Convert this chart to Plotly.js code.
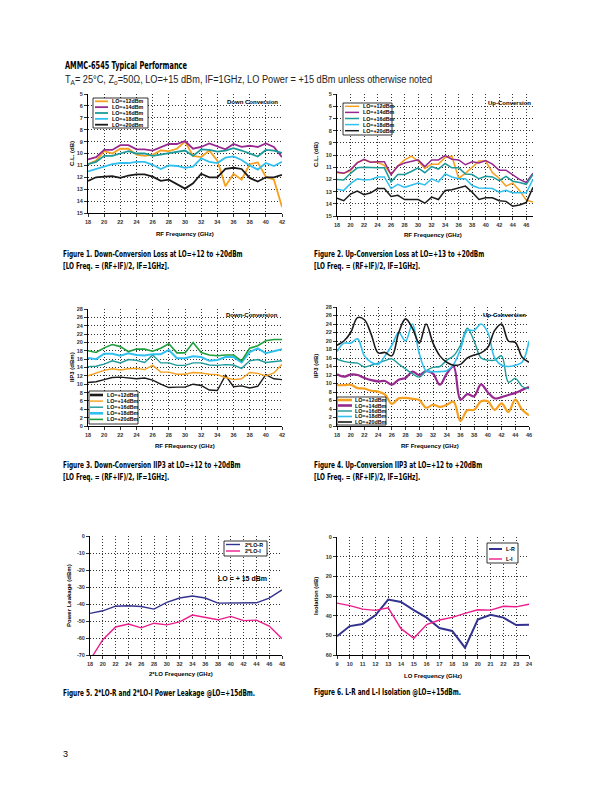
<!DOCTYPE html>
<html><head><meta charset="utf-8">
<script src="https://cdn.plot.ly/plotly-3.0.1.min.js"></script>
<style>
html,body{margin:0;padding:0;background:#fff}
#wrap{position:relative;width:612px;height:792px;overflow:hidden}
#page{position:absolute;left:0;top:0;width:612px;height:792px}
.t{position:absolute;white-space:nowrap;line-height:1;transform-origin:0 50%;color:#000}
.cap{font-family:'Liberation Sans Narrow','DejaVu Sans Condensed','Liberation Sans',sans-serif;font-weight:bold;font-size:9px}
.ttl{font-family:'Liberation Sans Narrow','DejaVu Sans Condensed','Liberation Sans',sans-serif;font-weight:bold;font-size:11px}
.sub{font-family:'Liberation Sans','DejaVu Sans',sans-serif;font-size:10px;color:#222}
.sub sub{font-size:7px;vertical-align:-2px;line-height:0}
.pg{font-family:'Liberation Sans','DejaVu Sans',sans-serif;font-size:9px}
</style>
</head><body><div id="wrap"><div id="page"></div></div>
<script>
// ---------- DATA ----------
const dcFreq = [18,19,20,21,22,23,24,25,26,27,28,29,30,31,32,33,34,35,36,37,38,39,40,41,42];
const dcLoss12 = [10.9,10.6,9.8,10.0,9.6,9.6,10.1,10.2,10.1,9.75,9.8,9.6,9.0,10.2,10.3,9.75,10.6,12.75,11.7,12.2,10.9,10.75,11.95,12.2,14.5];
const dcLoss14 = [10.5,10.3,9.7,9.7,9.3,9.3,9.65,9.65,9.75,9.45,9.2,9.2,8.95,9.6,9.45,9.15,9.4,9.65,9.2,9.45,9.35,9.45,9.15,9.45,10.3];
const dcLoss16 = [10.9,10.7,10.2,10.2,10.0,9.8,10.0,10.0,10.2,10.1,9.95,9.85,9.75,10.2,9.65,9.7,9.85,9.75,9.55,9.75,10.0,10.25,9.7,9.75,9.95];
const dcLoss18 = [11.5,11.3,11.1,10.9,10.8,10.8,10.7,10.7,10.95,11.3,11.0,11.05,11.2,11.1,10.4,10.7,10.8,10.35,10.25,10.55,11.0,11.35,10.8,11.05,10.7];
const dcLoss20 = [12.3,12.0,11.95,11.9,12.05,11.85,11.75,11.75,11.95,12.3,12.2,12.55,12.95,12.5,11.7,12.0,12.0,11.3,11.2,11.3,12.05,12.35,12.0,12.0,11.8];

const ucFreq = [18,19,20,21,22,23,24,25,26,27,28,29,30,31,32,33,34,35,36,37,38,39,40,41,42,43,44,45,46,47];
const ucLoss12 = [11.45,11.5,11.3,10.6,10.4,10.6,10.6,10.85,11.6,10.9,10.4,10.1,10.5,11.1,10.75,10.75,10.2,10.1,11.9,11.5,11.0,10.5,10.5,11.45,11.9,12.55,12.3,12.9,13.7,13.85];
const ucLoss14 = [11.4,11.5,11.2,10.65,10.35,10.6,10.55,10.55,11.6,10.9,10.65,10.55,10.4,10.95,10.4,10.4,10.05,10.35,10.4,10.8,10.55,10.65,10.45,10.75,11.25,11.25,11.6,12.0,12.25,11.5];
const ucLoss16 = [12.0,12.05,11.5,11.05,11.0,11.05,11.05,11.05,12.2,11.6,11.6,11.35,11.05,11.45,10.95,11.15,10.7,11.05,11.05,11.55,11.6,11.95,11.75,11.8,12.1,11.75,12.15,12.25,12.4,11.6];
const ucLoss18 = [12.8,12.9,12.35,11.95,12.05,12.0,11.8,11.8,12.75,12.4,12.65,12.45,12.3,12.45,11.95,12.2,11.55,11.8,11.95,11.95,12.5,12.7,12.7,12.75,13.05,12.9,13.1,13.1,13.1,12.0];
const ucLoss20 = [13.55,13.75,13.2,12.95,13.25,13.1,12.75,12.75,13.4,13.3,13.65,13.65,13.65,13.95,13.45,13.65,12.9,12.85,12.7,12.55,13.05,13.65,13.5,13.5,13.75,13.8,14.2,14.1,13.9,12.65];

const dcIip12 = [10.4,10.6,11.1,11.6,11.7,11.5,11.3,11.5,11.0,10.0,9.2,9.3,9.3,10.0,9.7,8.6,8.5,12.1,9.4,9.6,9.1,9.5,12.3,11.3,11.1];
const dcIip14 = [12.0,12.7,13.3,13.7,13.4,13.7,13.8,13.5,14.5,12.9,12.9,12.4,12.4,12.8,12.7,12.4,12.3,11.6,11.1,11.3,12.8,12.6,12.0,12.7,14.8];
const dcIip16 = [14.2,14.3,14.8,15.6,15.1,15.9,15.7,15.2,17.0,15.1,15.1,14.5,14.5,15.1,15.1,14.6,14.5,14.7,14.6,13.8,15.6,15.9,15.2,15.4,15.6];
const dcIip18 = [16.3,16.0,17.3,17.3,16.8,17.4,17.0,16.9,17.2,17.2,18.2,16.2,16.2,16.7,16.5,15.6,15.8,16.5,16.5,15.2,17.7,18.6,17.4,17.9,18.4];
const dcIip20 = [18.0,17.6,18.7,19.5,19.0,17.8,18.4,18.4,17.9,18.6,19.7,17.5,17.5,20.0,17.6,17.0,16.8,17.0,17.0,15.6,18.6,19.2,20.4,20.7,20.7];

const uiFreq = [18,19,20,21,22,23,24,25,26,27,28,29,30,31,32,33,34,35,36,37,38,39,40,41,42,43,44,45,46];
const ucIip12 = [9.6,9.6,9.7,8.9,8.8,8.3,8.1,7.4,5.2,6.5,6.6,6.4,6.1,4.3,5.0,4.5,5.0,5.7,1.2,3.7,3.8,5.8,5.8,3.8,5.3,3.3,6.2,3.8,2.5];
const ucIip14 = [12.2,11.6,12.1,12.0,11.3,10.8,10.5,10.6,9.7,10.9,11.3,12.8,12.0,12.9,12.3,9.7,12.3,14.0,6.2,7.5,7.0,9.8,7.9,6.5,6.8,7.3,7.8,8.5,9.2];
const ucIip16 = [15.7,15.2,14.9,14.8,13.9,14.3,14.8,15.4,15.8,14.6,13.4,12.3,11.5,13.0,13.8,14.0,15.5,16.5,19.0,23.0,20.0,16.0,15.5,15.5,16.5,10.3,11.2,9.3,8.8];
const ucIip18 = [17.5,19.5,19.5,20.5,16.5,15.0,14.5,16.5,19.0,22.0,20.0,24.0,17.0,13.0,12.8,12.8,13.0,14.5,18.0,22.5,22.5,24.0,22.0,16.0,14.3,14.0,14.3,15.0,20.0];
const ucIip20 = [19.0,20.0,22.0,25.5,25.0,21.5,17.2,17.3,16.5,22.0,25.2,23.0,19.5,24.0,19.5,16.5,15.0,14.3,14.5,16.0,16.7,17.2,18.5,22.5,24.0,20.0,19.7,16.2,15.0];

const lo2Freq = [18,20,22,24,26,28,30,32,34,36,38,40,42,44,46,48];
const leakR = [-45.5,-44,-41.3,-41,-41.5,-43,-39,-36.5,-35.3,-36.5,-39.5,-39.5,-39.5,-39.3,-36.5,-31.7];
const leakI = [-73,-61,-53.5,-51.8,-54,-51.3,-52.3,-50.5,-46.5,-47.8,-49.3,-47.3,-49.8,-49.5,-53,-60.5];
const leakTickVals = [0,-10,-20,-30,-40,-50,-60,-70];
const leakTickText = ['0','-10','-20','-30','-40','-50','-60','-70'];

const loFreq = [9,10,11,12,13,14,15,16,17,18,19,20,21,22,23,24];
const isoLR = [50.5,45.3,44.2,39.8,31.8,33.0,37.2,41.0,46.3,47.8,56.3,42.0,39.6,41.0,44.8,44.6];
const isoLI = [33.6,34.9,36.7,37.3,36.0,46.6,51.5,44.5,42.2,40.9,38.8,37.0,37.2,35.2,35.5,34.2];

const loNames = ['LO=+12dBm','LO=+14dBm','LO=+16dBm','LO=+18dBm','LO=+20dBm'];
const leakNames = ['2*LO-R','2*LO-I'];
const isoNames = ['L-R','L-I'];

// ---------- STYLE ----------
const W = 612, H = 792;
const fx = x => x / W, fy = y => 1 - y / H;
const AF = 'Liberation Sans, Arial, sans-serif';
const C = {orange:'#F5A01E', purple:'#96288F', teal:'#1C9A9A', cyan:'#30C0F0', black:'#1A1A1A', green:'#1E9E3C', navy:'#33338F', magenta:'#EC1C8C'};

const boxes = [
  {l:88, r:282, t:94, b:213},
  {l:337, r:533, t:94, b:216},
  {l:88, r:282, t:309, b:426},
  {l:337, r:529, t:307, b:426},
  {l:90, r:282, t:536, b:655},
  {l:337, r:529, t:537, b:655}
];

function axis(box, horiz, extra) {
  return Object.assign({
    domain: horiz ? [fx(box.l), fx(box.r)] : [fy(box.b), fy(box.t)],
    showline: true, linecolor: '#000', linewidth: 1,
    showgrid: true, gridcolor: '#000', gridwidth: 0.8, griddash: '1px,2px',
    zeroline: false, ticks: 'outside', ticklen: 3, tickcolor: '#000', tickwidth: 0.8,
    tickfont: {family: AF, size: 5.5, color: '#333', weight: 'bold'},
    fixedrange: true, automargin: false
  }, extra);
}

const layout = {
  width: W, height: H, margin: {l:0, r:0, t:0, b:0},
  paper_bgcolor: 'rgba(0,0,0,0)', plot_bgcolor: '#fff', showlegend: false,
  xaxis:  axis(boxes[0], true,  {anchor:'y',  range:[18,42], tick0:18, dtick:2}),
  yaxis:  axis(boxes[0], false, {anchor:'x',  range:[15,5], tick0:5, dtick:1}),
  xaxis2: axis(boxes[1], true,  {anchor:'y2', range:[18,47], tick0:18, dtick:2}),
  yaxis2: axis(boxes[1], false, {anchor:'x2', range:[15,5], tick0:5, dtick:1}),
  xaxis3: axis(boxes[2], true,  {anchor:'y3', range:[18,42], tick0:18, dtick:2}),
  yaxis3: axis(boxes[2], false, {anchor:'x3', range:[0,28], tick0:0, dtick:2}),
  xaxis4: axis(boxes[3], true,  {anchor:'y4', range:[18,46], tick0:18, dtick:2}),
  yaxis4: axis(boxes[3], false, {anchor:'x4', range:[0,28], tick0:0, dtick:2}),
  xaxis5: axis(boxes[4], true,  {anchor:'y5', range:[18,48], tick0:18, dtick:2}),
  yaxis5: axis(boxes[4], false, {anchor:'x5', range:[-70,0], tickmode:'array', tickvals:leakTickVals, ticktext:leakTickText}),
  xaxis6: axis(boxes[5], true,  {anchor:'y6', range:[9,24], tick0:9, dtick:1}),
  yaxis6: axis(boxes[5], false, {anchor:'x6', range:[60,0], tick0:0, dtick:10}),
  shapes: [], annotations: []
};

function T(text, x, y, o) {
  o = o || {};
  return {text: text, x: fx(x), y: fy(y), xref:'paper', yref:'paper', showarrow:false,
    xanchor: o.xa || 'left', yanchor: o.ya || 'middle', textangle: o.angle || 0,
    font: {family: o.family || AF, size: o.size || 6, color: o.color || '#000'}};
}
const A = layout.annotations, S = layout.shapes;

// ---------- TRACES ----------
const traces = [];
function add(x, y, n, name, color, width, shape) {
  traces.push({type:'scatter', mode:'lines', x:x, y:y, name:name, xaxis:'x'+(n>1?n:''), yaxis:'y'+(n>1?n:''),
    line:{color:color, width:width, shape:shape||'linear', smoothing:1}, hoverinfo:'skip'});
}
const c1 = [C.orange, C.purple, C.teal, C.cyan, C.black];
[dcLoss12, dcLoss14, dcLoss16, dcLoss18, dcLoss20].forEach((s,i)=>add(dcFreq, s, 1, loNames[i], c1[i], 1.8));
[ucLoss12, ucLoss14, ucLoss16, ucLoss18, ucLoss20].forEach((s,i)=>add(ucFreq, s, 2, loNames[i], c1[i], 1.5));
const c3 = [C.black, C.orange, C.teal, C.cyan, C.green];
const w3 = [1.4, 1.4, 1.4, 2.0, 1.6];
[dcIip12, dcIip14, dcIip16, dcIip18, dcIip20].forEach((s,i)=>add(dcFreq, s, 3, loNames[i], c3[i], w3[i]));
const c4 = [C.orange, C.purple, C.teal, C.cyan, C.black];
const w4 = [2.2, 2.2, 1.4, 1.6, 1.6];
[ucIip12, ucIip14, ucIip16, ucIip18, ucIip20].forEach((s,i)=>add(uiFreq, s, 4, loNames[i], c4[i], w4[i], 'spline'));
add(lo2Freq, leakR, 5, leakNames[0], C.navy, 1.4);
add(lo2Freq, leakI, 5, leakNames[1], C.magenta, 1.4);
add(loFreq, isoLR, 6, isoNames[0], C.navy, 2.0);
add(loFreq, isoLI, 6, isoNames[1], C.magenta, 1.4);

// ---------- LEGENDS (keys) ----------
function legend(bx, lx0, lx1, tx, top, step, names, colors, widths, size) {
  S.push({type:'rect', xref:'paper', yref:'paper', x0:fx(bx.l), x1:fx(bx.r), y0:fy(bx.b), y1:fy(bx.t),
    line:{color:'#000', width:0.8}, fillcolor:'#fff', layer:'above'});
  names.forEach((n,i)=>{
    const y = top + i*step;
    S.push({type:'line', xref:'paper', yref:'paper', x0:fx(lx0), x1:fx(lx1), y0:fy(y), y1:fy(y),
      line:{color:colors[i], width:widths[i]}, layer:'above'});
    A.push(T('<b>'+n+'</b>', tx, y, {size: size || 5.3}));
  });
}
legend({l:93,r:148,t:98,b:128}, 95, 108, 110, 101.3, 5.85, loNames, c1, [1.8,1.8,1.8,1.8,1.8]);
legend({l:343,r:392,t:103,b:135}, 345, 359, 361, 106.3, 6.1, loNames, c1, [1.5,1.5,1.5,1.5,1.5]);
legend({l:89,r:138,t:391,b:424}, 90, 103, 105, 395, 6.1, loNames, c3, [2.6,1.4,1.4,2.6,1.6]);
legend({l:337,r:386,t:397,b:425}, 338, 352, 353, 400, 5.5, loNames, c4, [2.6,2.6,1.4,1.6,1.6]);
legend({l:224,r:267,t:541,b:556}, 226, 240, 243, 544.5, 6.5, leakNames, [C.navy, C.magenta], [1.4,1.4]);
legend({l:487,r:518,t:543,b:563}, 489, 502, 504, 549, 10, isoNames, [C.navy, C.magenta], [2.0,1.4]);

// ---------- IN-CHART TEXT ----------
A.push(T('<b>Down Conversion</b>', 225, 102));
A.push(T('<b>Up-Conversion</b>', 486, 103));
A.push(T('<b>Down-Conversion</b>', 224, 315));
A.push(T('<b>Up-Conversion</b>', 481, 315));
A.push(T('<b>LO = + 15 dBm</b>', 216, 578, {size:7}));

A.push(T('<b>C.L. (dB)</b>', 72, 154, {xa:'center', angle:-90}));
A.push(T('<b>RF Frequency (GHz)</b>', 185, 234, {xa:'center'}));
A.push(T('<b>C.L. (dB)</b>', 316, 155, {xa:'center', angle:-90}));
A.push(T('<b>RF Frequency (GHz)</b>', 433, 235, {xa:'center'}));
A.push(T('<b>IIP3 (dBm)</b>', 72, 367, {xa:'center', angle:-90}));
A.push(T('<b>RF FRequency (GHz)</b>', 185, 446, {xa:'center'}));
A.push(T('<b>IIP3 (dB)</b>', 316, 366, {xa:'center', angle:-90}));
A.push(T('<b>RF Frequency (GHz)</b>', 430, 446, {xa:'center'}));
A.push(T('<b>Power Leakage (dBm)</b>', 69, 596, {xa:'center', angle:-90}));
A.push(T('<b>2*LO Frequency (GHz)</b>', 181, 674, {xa:'center'}));
A.push(T('<b>Isolation (dB)</b>', 316, 596, {xa:'center', angle:-90}));
A.push(T('<b>LO Frequency (GHz)</b>', 433, 676, {xa:'center'}));

Plotly.newPlot('page', traces, layout, {staticPlot:true, displayModeBar:false});

// ---------- PAGE TEXT (header, captions) ----------
const wrap = document.getElementById('wrap');
function put(html, cls, x, y) {
  const d = document.createElement('div');
  d.className = 't ' + cls; d.innerHTML = html;
  d.style.left = x + 'px'; d.style.top = y + 'px';
  wrap.appendChild(d);
  return d;
}
function fit(el, w) { const k = w / el.getBoundingClientRect().width; return k; }
function place(el, k) { el.style.transform = 'translateY(-50%) scaleX(' + k + ')'; }

const title = put('AMMC-6545 Typical Performance', 'ttl', 65, 65);
place(title, fit(title, 122));
const sub = put('T<sub>A</sub>= 25°C, Z<sub>o</sub>=50Ω, LO=+15 dBm, IF=1GHz, LO Power = +15 dBm unless otherwise noted', 'sub', 65, 80);
place(sub, fit(sub, 367));

const caps = [
  ['Figure 1. Down-Conversion Loss at LO=+12 to +20dBm', 63, 254],
  ['[LO Freq. = (RF+IF)/2, IF=1GHz].', 63, 266],
  ['Figure 2. Up-Conversion Loss at LO=+13 to +20dBm', 314, 254],
  ['[LO Freq. = (RF+IF)/2, IF=1GHz].', 314, 266],
  ['Figure 3. Down-Conversion IIP3 at LO=+12 to +20dBm', 63, 465],
  ['[LO Freq. = (RF+IF)/2, IF=1GHz].', 63, 477],
  ['Figure 4. Up-Conversion IIP3 at LO=+12 to +20dBm', 314, 465],
  ['[LO Freq. = (RF+IF)/2, IF=1GHz].', 314, 477],
  ['Figure 5. 2*LO-R and 2*LO-I Power Leakage @LO=+15dBm.', 63, 693],
  ['Figure 6. L-R and L-I Isolation @LO=+15dBm.', 314, 692]
];
const capEls = caps.map(c => put(c[0], 'cap', c[1], c[2]));
const kCap = fit(capEls[8], 192);
capEls.forEach(e => place(e, kCap));
const pg = put('3', 'pg', 63, 754);
place(pg, 1);
</script>
</body></html>
